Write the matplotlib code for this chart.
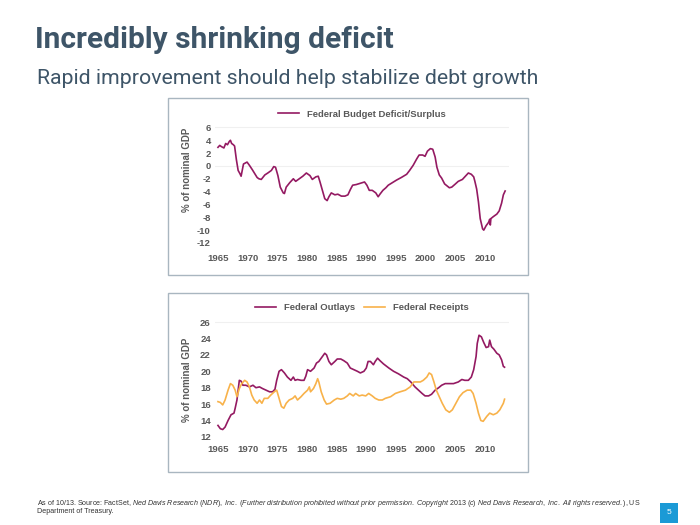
"""Incredibly shrinking deficit -- two stacked % of GDP panels."""
import matplotlib
matplotlib.use("Agg")
import matplotlib.pyplot as plt
from matplotlib.patches import Rectangle

# ---- data (% of nominal GDP) ----
DEF_YEARS = [1965.0, 1965.3, 1965.6, 1966.0, 1966.3, 1966.6, 1966.9, 1967.1, 1967.3,
             1967.6, 1967.8, 1968.1, 1968.4, 1968.7, 1968.9, 1969.3, 1969.9, 1970.3,
             1970.8, 1971.2, 1971.6, 1971.9, 1972.3, 1972.9, 1973.4, 1974.0, 1974.4,
             1974.7, 1975.1, 1975.5, 1976.0, 1976.2, 1976.5, 1977.1, 1977.7, 1978.1,
             1978.7, 1979.3, 1979.9, 1980.5, 1980.9, 1981.5, 1981.9, 1982.2, 1982.6,
             1983.0, 1983.4, 1983.7, 1984.1, 1984.7, 1985.2, 1985.8, 1986.4, 1986.9,
             1987.3, 1987.7, 1988.3, 1989.0, 1989.7, 1990.1, 1990.5, 1991.0, 1991.6,
             1992.0, 1992.3, 1992.8, 1993.3, 1993.7, 1994.4, 1995.1, 1995.9, 1996.8,
             1997.3, 1997.9, 1998.5, 1998.9, 1999.5, 1999.9, 2000.3, 2000.8, 2001.2,
             2001.6, 2001.9, 2002.3, 2002.7, 2003.2, 2004.0, 2004.4, 2004.9, 2005.5,
             2006.2, 2006.6, 2007.2, 2007.7, 2008.1, 2008.3, 2008.6, 2008.9, 2009.2,
             2009.6, 2009.8, 2010.2, 2010.6, 2010.8, 2010.9, 2011.0, 2011.4, 2012.0,
             2012.4, 2012.8, 2013.1, 2013.4]
DEF_VALUES = [2.9, 3.2, 3.0, 2.8, 3.5, 3.3, 3.8, 4.0, 3.5,
              3.3, 3.1, 1.0, -0.7, -1.2, -1.6, 0.3, 0.6, 0.1,
              -0.6, -1.2, -1.8, -2.0, -2.1, -1.4, -1.1, -0.7, -0.1,
              -0.2, -1.5, -3.3, -4.2, -4.3, -3.3, -2.6, -2.0, -2.4,
              -2.0, -1.6, -1.1, -1.5, -2.1, -1.7, -1.6, -2.5, -3.8,
              -5.1, -5.4, -4.8, -4.2, -4.5, -4.4, -4.7, -4.7, -4.5,
              -3.7, -3.0, -2.9, -2.7, -2.5, -3.0, -3.8, -3.8, -4.2,
              -4.8, -4.4, -3.8, -3.4, -3.0, -2.6, -2.2, -1.8, -1.3,
              -0.7, 0.1, 1.1, 1.7, 1.7, 1.5, 2.3, 2.7, 2.6,
              1.4, -0.2, -1.4, -1.9, -2.8, -3.4, -3.3, -2.9, -2.4,
              -2.1, -1.7, -1.1, -1.3, -1.7, -2.4, -3.6, -5.6, -8.2,
              -9.8, -10.0, -9.3, -8.8, -8.3, -9.2, -8.2, -7.9, -7.5,
              -7.0, -5.8, -4.5, -3.9]

OUT_YEARS = [1965.0, 1965.4, 1965.8, 1966.2, 1966.7, 1967.2, 1967.7, 1967.9, 1968.2,
             1968.4, 1968.6, 1968.9, 1969.2, 1969.7, 1970.3, 1970.9, 1971.4, 1972.0,
             1972.5, 1973.1, 1973.7, 1974.2, 1974.6, 1974.9, 1975.3, 1975.7, 1976.2,
             1976.7, 1977.3, 1977.7, 1978.0, 1978.4, 1979.0, 1979.5, 1979.8, 1980.1,
             1980.6, 1981.2, 1981.6, 1982.0, 1982.6, 1983.0, 1983.3, 1983.7, 1984.1,
             1984.7, 1985.1, 1985.7, 1986.2, 1986.8, 1987.3, 1987.9, 1988.5, 1989.0,
             1989.6, 1990.0, 1990.3, 1990.7, 1991.2, 1991.5, 1991.9, 1992.3, 1992.9,
             1993.8, 1994.6, 1995.4, 1996.3, 1996.9, 1997.5, 1998.2, 1998.8, 1999.4,
             1999.9, 2000.5, 2001.0, 2001.6, 2002.2, 2002.7, 2003.3, 2003.9, 2004.7,
             2005.5, 2006.1, 2006.6, 2007.2, 2007.7, 2008.1, 2008.5, 2008.7, 2009.0,
             2009.4, 2009.8, 2010.2, 2010.6, 2010.8, 2011.1, 2011.5, 2012.0, 2012.4,
             2012.8, 2013.1, 2013.3]
OUT_VALUES = [13.4, 13.0, 12.9, 13.2, 14.0, 14.7, 14.9, 15.5, 16.5,
              17.7, 18.9, 18.8, 18.3, 18.3, 18.1, 18.3, 18.0, 18.1,
              17.9, 17.7, 17.5, 17.5, 17.8, 18.9, 20.0, 20.2, 19.8,
              19.3, 18.9, 19.3, 18.9, 19.0, 18.9, 18.9, 19.4, 20.2,
              20.0, 20.4, 21.0, 21.2, 21.8, 22.2, 22.0, 21.2, 20.8,
              21.2, 21.5, 21.5, 21.3, 21.0, 20.4, 20.2, 20.0, 19.8,
              20.0, 20.4, 21.2, 21.2, 20.8, 21.2, 21.6, 21.3, 20.9,
              20.4, 20.0, 19.7, 19.3, 19.1, 18.7, 18.1, 17.7, 17.3,
              17.0, 17.0, 17.2, 17.7, 18.0, 18.3, 18.5, 18.5, 18.5,
              18.7, 19.0, 18.9, 18.9, 19.3, 20.2, 21.8, 23.4, 24.4,
              24.2, 23.5, 22.9, 23.0, 23.8, 23.0, 22.7, 22.2, 22.0,
              21.4, 20.6, 20.5]

REC_YEARS = [1965.0, 1965.4, 1965.8, 1966.2, 1966.7, 1967.1, 1967.5, 1967.9, 1968.2,
             1968.6, 1969.0, 1969.5, 1969.9, 1970.3, 1970.7, 1971.1, 1971.6, 1972.0,
             1972.4, 1972.8, 1973.4, 1973.9, 1974.5, 1974.9, 1975.3, 1975.7, 1976.1,
             1976.5, 1977.0, 1977.6, 1978.0, 1978.4, 1979.0, 1979.5, 1980.1, 1980.4,
             1980.6, 1981.1, 1981.5, 1981.8, 1982.0, 1982.4, 1982.9, 1983.3, 1983.9,
             1984.6, 1985.1, 1985.7, 1986.2, 1986.8, 1987.2, 1987.8, 1988.2, 1988.8,
             1989.3, 1989.9, 1990.4, 1991.0, 1991.5, 1992.1, 1992.7, 1993.2, 1994.1,
             1994.9, 1995.7, 1996.6, 1997.4, 1998.0, 1998.5, 1999.1, 1999.6, 2000.2,
             2000.6, 2001.0, 2001.4, 2001.8, 2002.3, 2002.8, 2003.4, 2004.0, 2004.5,
             2005.1, 2005.7, 2006.3, 2007.0, 2007.6, 2008.0, 2008.5, 2008.9, 2009.3,
             2009.7, 2010.3, 2010.8, 2011.4, 2012.0, 2012.5, 2013.1, 2013.3]
REC_VALUES = [16.3, 16.2, 15.9, 16.5, 17.7, 18.5, 18.3, 17.7, 16.9,
              17.9, 18.5, 18.9, 18.7, 18.1, 17.1, 16.5, 16.1, 16.5,
              16.1, 16.7, 16.7, 17.1, 17.5, 17.7, 16.7, 15.7, 15.5,
              16.1, 16.5, 16.7, 17.0, 16.5, 16.9, 17.3, 17.7, 18.1,
              17.5, 17.9, 18.5, 19.1, 18.7, 17.5, 16.5, 16.0, 16.1,
              16.5, 16.7, 16.6, 16.7, 17.0, 17.3, 17.0, 17.3, 17.0,
              17.1, 17.0, 17.3, 17.0, 16.7, 16.5, 16.5, 16.7, 16.9,
              17.3, 17.5, 17.7, 18.1, 18.7, 18.7, 18.7, 18.9, 19.3,
              19.8, 19.6, 18.7, 17.7, 16.9, 16.1, 15.3, 15.0, 15.3,
              16.1, 16.9, 17.4, 17.7, 17.7, 17.3, 16.1, 14.9, 14.0,
              13.9, 14.5, 14.9, 14.7, 14.9, 15.3, 16.1, 16.6]

X_TICKS = [1965, 1970, 1975, 1980, 1985, 1990, 1995, 2000, 2005, 2010]
DEF_TICKS = [6, 4, 2, 0, -2, -4, -6, -8, -10, -12]
GDP_TICKS = [26, 24, 22, 20, 18, 16, 14, 12]

PURPLE = "#941a62"
ORANGE = "#f8b24a"
TICK_C = "#595959"
SLATE = "#3e5568"
BOX_C = "#a9b6c0"
NOTE_C = "#333333"

W, H = 700, 525


def fig_rect(x0, y0, x1, y1):
    """pixel box (top-left origin) -> figure-fraction [l, b, w, h]"""
    return [x0 / W, 1 - y1 / H, (x1 - x0) / W, (y1 - y0) / H]


def style_axes(ax, yticks, ylim):
    ax.set_xlim(1964.5, 2014)
    ax.set_ylim(*ylim)
    ax.set_xticks(X_TICKS)
    ax.set_yticks(yticks)
    for s in ax.spines.values():
        s.set_visible(False)
    ax.tick_params(length=0, labelsize=6.8, labelcolor=TICK_C, pad=3)
    for lab in ax.get_xticklabels() + ax.get_yticklabels():
        lab.set_fontweight("bold")
    ax.axhline(yticks[0], color="#f0f0f0", lw=0.8, zorder=0)
    ax.set_ylabel("% of nominal GDP", fontsize=7, fontweight="bold", color=TICK_C)


def tex_words(s):
    # spaces must be explicit inside mathtext
    return s.replace(" ", r"\ ")


plt.rcParams["font.family"] = ["Liberation Sans", "DejaVu Sans"]
plt.rcParams["axes.unicode_minus"] = False
plt.rcParams["mathtext.fontset"] = "custom"
plt.rcParams["mathtext.rm"] = "Liberation Sans"
plt.rcParams["mathtext.it"] = "Liberation Sans:italic"
fig = plt.figure(figsize=(7, 5.25), dpi=100)

# chart frames
for y0, y1 in [(98, 275), (293, 472)]:
    l, b, w, h = fig_rect(168, y0, 528, y1)
    fig.patches.append(Rectangle((l, b), w, h, transform=fig.transFigure,
                                 fill=False, ec=BOX_C, lw=1.0))

# top panel: deficit / surplus
ax1 = fig.add_axes(fig_rect(215, 121, 508.7, 249.4))
ax1.plot(DEF_YEARS, DEF_VALUES, color=PURPLE, lw=1.2,
         label="Federal Budget Deficit/Surplus")
style_axes(ax1, DEF_TICKS, (-13, 7))
ax1.axhline(0, color="#f0f0f0", lw=0.8, zorder=0)
ax1.yaxis.set_label_coords(-0.078, 0.62)
ax1.legend(loc="lower center", bbox_to_anchor=(0.5, 0.975), frameon=False,
           prop={"weight": "bold", "size": 6.8}, labelcolor=TICK_C,
           handlelength=2.2, borderaxespad=0.2)

# bottom panel: outlays vs receipts
ax2 = fig.add_axes(fig_rect(215, 318, 508.7, 441))
ax2.plot(OUT_YEARS, OUT_VALUES, color=PURPLE, lw=1.2, label="Federal Outlays")
ax2.plot(REC_YEARS, REC_VALUES, color=ORANGE, lw=1.2, label="Federal Receipts")
style_axes(ax2, GDP_TICKS, (11.5, 26.5))
ax2.yaxis.set_label_coords(-0.078, 0.5)
ax2.legend(loc="lower center", bbox_to_anchor=(0.5, 1.0), frameon=False, ncol=2,
           prop={"weight": "bold", "size": 6.8}, labelcolor=TICK_C,
           handlelength=2.2, columnspacing=1.0, borderaxespad=0.2)

# headings
fig.text(35 / W, 1 - 40 / H, "Incredibly shrinking deficit", fontsize=21.5,
         fontweight="bold", color=SLATE, va="center",
         family=["Liberation Sans Narrow", "Roboto", "DejaVu Sans"])
fig.text(37 / W, 1 - 78 / H, "Rapid improvement should help stabilize debt growth",
         fontsize=15.3, color=SLATE, va="center",
         family=["Roboto", "DejaVu Sans"])

# footnote (italic middle part via mathtext so it shares one baseline)
fs = 5.1
ital = tex_words("Ned Davis Research (NDR), Inc. (Further distribution prohibited "
                 "without prior permission. Copyright 2013 (c) Ned Davis Research, "
                 "Inc. All rights reserved.)")
fig.text(37 / W, 1 - 505 / H,
         "As of 10/13. Source: FactSet, $\\mathit{" + ital + "}$, US",
         fontsize=fs, color=NOTE_C, va="baseline")
fig.text(37 / W, 1 - 513 / H, "Department of Treasury.", fontsize=fs,
         color=NOTE_C, va="baseline")

# page number
fig.text(669 / W, 1 - 513 / H, "5", fontsize=6, color="white", ha="center",
         va="center", bbox=dict(boxstyle="square,pad=0.75", fc="#1b9ad6", ec="none"))

fig.savefig("out.png", dpi=100)
